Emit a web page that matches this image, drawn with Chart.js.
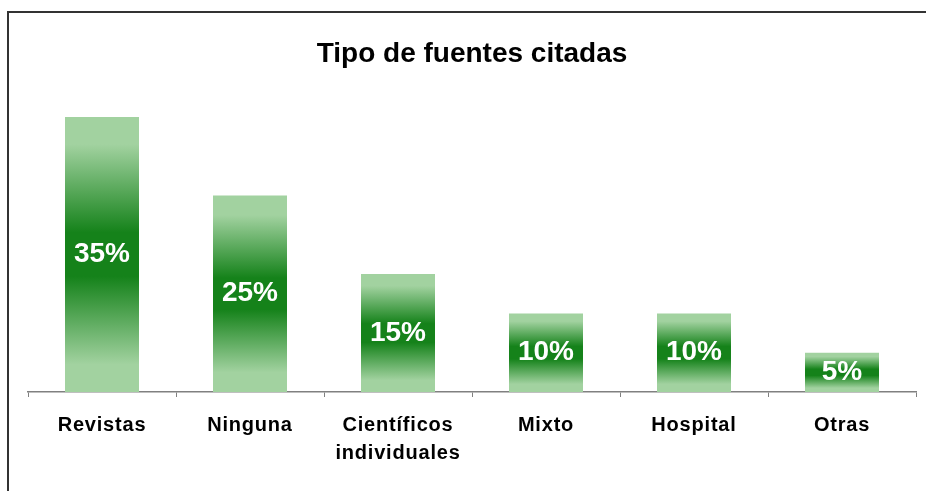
<!DOCTYPE html>
<html>
<head>
<meta charset="utf-8">
<script src="https://cdn.jsdelivr.net/npm/chart.js@4"></script>
<style>
  html, body { margin: 0; padding: 0; background: #fff; }
  .wrap { position: relative; width: 926px; height: 491px; }
  .frame { position: absolute; left: 7px; top: 11px; right: 0; bottom: 0; border-left: 2px solid #333; border-top: 2px solid #333; }
  canvas { position: absolute; left: 0; top: 0; }
</style>
</head>
<body>
<div class="wrap">
  <div class="frame"></div>
  <canvas id="myChart" width="926" height="491"></canvas>
</div>
<script>
const categories = ['Revistas', 'Ninguna', ['Científicos', 'individuales'], 'Mixto', 'Hospital', 'Otras'];
const percents = [35, 25, 15, 10, 10, 5];
const title = 'Tipo de fuentes citadas';

const light = '#a2d2a0';
const dark = '#15821a';
const font = "'Liberation Sans', Arial, sans-serif";

// each bar gets its own vertical gradient: light at the ends, dark in the middle
const barGradient = (c) => {
  const chart = c.chart;
  const y = chart.scales.y;
  if (!chart.chartArea || !y || c.raw === undefined) return light;
  const top = y.getPixelForValue(c.raw);
  const base = y.getPixelForValue(0);
  const g = chart.ctx.createLinearGradient(0, top, 0, base);
  g.addColorStop(0, light);
  g.addColorStop(0.1, light);
  g.addColorStop(0.42, dark);
  g.addColorStop(0.58, dark);
  g.addColorStop(0.9, light);
  g.addColorStop(1, light);
  return g;
};

const labelsPlugin = {
  id: 'barLabels',
  afterDatasetsDraw(chart) {
    const ctx = chart.ctx;
    const meta = chart.getDatasetMeta(0);
    ctx.save();
    ctx.letterSpacing = '0px';
    ctx.font = 'bold 28px ' + font;
    ctx.fillStyle = '#fff';
    ctx.textAlign = 'center';
    ctx.textBaseline = 'middle';
    meta.data.forEach((bar, i) => {
      ctx.fillText(percents[i] + '%', bar.x, (bar.y + bar.base) / 2);
    });
    ctx.restore();
    // tick labels are drawn after this (ticks z = 1), Excel spaces them out a bit
    ctx.letterSpacing = '0.8px';
  },
  afterDraw(chart) {
    chart.ctx.letterSpacing = '0px';
  }
};

const ctx = document.getElementById('myChart').getContext('2d');
const myChart = new Chart(ctx, {
  type: 'bar',
  data: {
    labels: categories,
    datasets: [{
      data: percents,
      backgroundColor: barGradient,
      borderWidth: 0,
      barPercentage: 0.5,
      categoryPercentage: 1
    }]
  },
  options: {
    responsive: false,
    animation: false,
    layout: { padding: { left: 28, right: 10, top: 0, bottom: 0 } },
    plugins: {
      legend: { display: false },
      tooltip: { enabled: false },
      title: {
        display: true,
        text: title,
        color: '#000',
        font: { family: font, size: 28, weight: 'bold' },
        padding: { top: 37, bottom: 7 }
      }
    },
    scales: {
      y: { display: false, min: 0, max: 40 },
      x: {
        afterFit: (scale) => { scale.height = 99; },
        grid: { drawOnChartArea: false, drawTicks: true, tickLength: 5, color: '#808080', lineWidth: 1 },
        border: { color: '#808080', width: 1.5 },
        ticks: {
          z: 1,
          color: '#000',
          padding: 14,
          maxRotation: 0,
          autoSkip: false,
          font: { family: font, size: 20, weight: 'bold', lineHeight: 1.4 }
        }
      }
    }
  },
  plugins: [labelsPlugin]
});
</script>
</body>
</html>
